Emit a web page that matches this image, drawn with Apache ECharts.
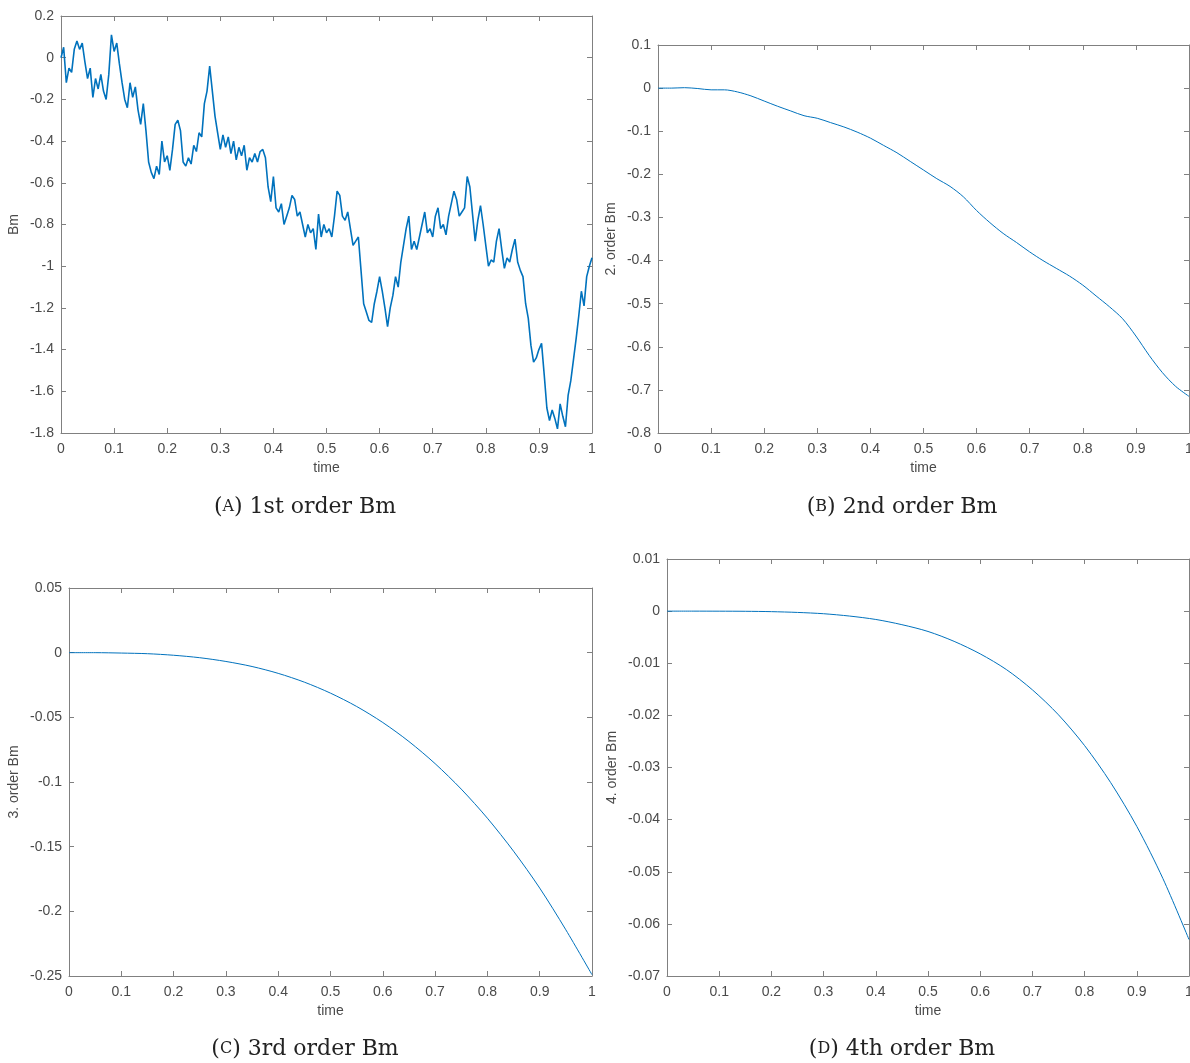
<!DOCTYPE html>
<html><head><meta charset="utf-8">
<script src="https://cdn.jsdelivr.net/npm/echarts@6/dist/echarts.min.js"></script>
<style>html,body{margin:0;padding:0;background:#fff}#c{width:1190px;height:1063px}</style>
</head><body><div id="c"></div>
<script>
// ---- data ----
// Panel A: 1st order Brownian motion, sampled every 0.005 in time
const bm1Values = [
 0.00, 0.05,-0.12,-0.05,-0.07, 0.04, 0.08, 0.04, 0.07,-0.02,
-0.10,-0.05,-0.19,-0.10,-0.15,-0.08,-0.16,-0.20,-0.08, 0.11,
 0.03, 0.07,-0.03,-0.12,-0.20,-0.24,-0.12,-0.19,-0.14,-0.25,
-0.32,-0.22,-0.35,-0.50,-0.55,-0.58,-0.52,-0.56,-0.40,-0.50,
-0.47,-0.54,-0.44,-0.32,-0.30,-0.35,-0.50,-0.52,-0.48,-0.51,
-0.42,-0.45,-0.36,-0.38,-0.22,-0.16,-0.04,-0.16,-0.28,-0.36,
-0.44,-0.37,-0.43,-0.38,-0.46,-0.40,-0.49,-0.43,-0.47,-0.42,
-0.54,-0.48,-0.50,-0.46,-0.50,-0.45,-0.44,-0.48,-0.62,-0.69,
-0.57,-0.72,-0.74,-0.70,-0.80,-0.76,-0.72,-0.66,-0.68,-0.76,
-0.74,-0.80,-0.86,-0.80,-0.84,-0.82,-0.92,-0.75,-0.86,-0.80,
-0.84,-0.82,-0.86,-0.76,-0.64,-0.66,-0.76,-0.78,-0.74,-0.82,
-0.90,-0.88,-0.86,-1.02,-1.18,-1.22,-1.26,-1.27,-1.18,-1.12,
-1.05,-1.12,-1.20,-1.29,-1.20,-1.14,-1.05,-1.10,-0.98,-0.90,
-0.82,-0.76,-0.92,-0.88,-0.92,-0.86,-0.80,-0.74,-0.84,-0.82,
-0.86,-0.76,-0.72,-0.82,-0.80,-0.85,-0.76,-0.70,-0.64,-0.68,
-0.76,-0.74,-0.72,-0.57,-0.62,-0.75,-0.88,-0.78,-0.71,-0.80,
-0.90,-1.00,-0.97,-0.98,-0.88,-0.82,-0.92,-1.01,-0.96,-0.98,
-0.92,-0.87,-0.98,-1.02,-1.05,-1.18,-1.25,-1.38,-1.46,-1.44,
-1.40,-1.37,-1.52,-1.68,-1.74,-1.69,-1.73,-1.78,-1.66,-1.72,
-1.77,-1.62,-1.55,-1.45,-1.35,-1.24,-1.12,-1.19,-1.05,-1.00,
-0.96
];
// Panel B: 2nd order, sampled every 0.025
const bm2Values = [
 0.000, 0.000, 0.001,-0.001,-0.004,-0.004,-0.009,-0.018,-0.030,-0.042,
-0.053,-0.064,-0.070,-0.080,-0.090,-0.102,-0.116,-0.133,-0.150,-0.170,
-0.190,-0.210,-0.228,-0.252,-0.284,-0.312,-0.337,-0.358,-0.380,-0.400,
-0.418,-0.436,-0.457,-0.482,-0.507,-0.535,-0.575,-0.620,-0.660,-0.692,
-0.715
];
// Panel C: 3rd order, sampled every 0.05
const bm3Values = [
 0.0000,-0.0000,-0.0003,-0.0008,-0.0020,-0.0039,-0.0068,-0.0107,-0.0160,-0.0228,
-0.0313,-0.0416,-0.0540,-0.0687,-0.0858,-0.1055,-0.1280,-0.1535,-0.1820,-0.2143,
-0.2490
];
// Panel D: 4th order, sampled every 0.05
const bm4Values = [
 0.00000, 0.00000,-0.00001,-0.00003,-0.00010,-0.00025,-0.00050,-0.00095,-0.00160,-0.00260,
-0.00390,-0.00580,-0.00820,-0.01120,-0.01510,-0.01990,-0.02580,-0.03290,-0.04130,-0.05130,
-0.06300
];
const timeStep = {bm1: 0.005, bm2: 0.025, bm3: 0.05, bm4: 0.05};
const yNames = ['Bm', '2. order Bm', '3. order Bm', '4. order Bm'];
const xName = 'time';
const yRanges = [[-1.8, 0.2, 0.2], [-0.8, 0.1, 0.1], [-0.25, 0.05, 0.05], [-0.07, 0.01, 0.01]];
const captions = [['A', ' 1st order Bm'], ['B', ' 2nd order Bm'], ['C', ' 3rd order Bm'], ['D', ' 4th order Bm']];

function toPairs(vals, step) {
  return vals.map((v, i) => [+(i * step).toFixed(4), v]);
}
const seriesData = [
  toPairs(bm1Values, timeStep.bm1),
  toPairs(bm2Values, timeStep.bm2),
  toPairs(bm3Values, timeStep.bm3),
  toPairs(bm4Values, timeStep.bm4)
];

// ---- layout ----
const grids = [
  {left: 61, top: 16, width: 531, height: 417},
  {left: 658, top: 45, width: 531, height: 388},
  {left: 69, top: 588, width: 523, height: 388},
  {left: 667, top: 559, width: 522, height: 417}
];
const yNameGap = [40, 40, 48, 48];
const captionPos = [[305, 507], [902, 507], [305, 1049], [902, 1049]];

const AX = '#808080', LBL = '#4a4a4a', FONT = '"Liberation Sans", Arial, sans-serif';
const option = {
  animation: false,
  grid: grids.map(g => Object.assign({containLabel: false, outerBoundsMode: 'none'}, g)),
  xAxis: [], yAxis: [], series: [], graphic: []
};
grids.forEach((g, i) => {
  const tick = {show: true, inside: true, length: 5, lineStyle: {color: AX, width: 1}};
  const line = {show: true, onZero: false, lineStyle: {color: AX, width: 1}};
  option.xAxis.push({
    type: 'value', gridIndex: i, min: 0, max: 1, interval: 0.1, position: 'bottom',
    axisLine: line, axisTick: tick, splitLine: {show: false},
    axisLabel: {color: LBL, fontFamily: FONT, fontSize: 14, margin: 9},
    name: xName, nameLocation: 'middle', nameGap: 28,
    nameTextStyle: {color: LBL, fontFamily: FONT, fontSize: 14}
  });
  option.xAxis.push({
    type: 'value', gridIndex: i, min: 0, max: 1, interval: 0.1, position: 'top',
    axisLine: line, axisTick: tick, splitLine: {show: false}, axisLabel: {show: false}
  });
  const [ymin, ymax, yint] = yRanges[i];
  option.yAxis.push({
    type: 'value', gridIndex: i, min: ymin, max: ymax, interval: yint, position: 'left',
    axisLine: line, axisTick: tick, splitLine: {show: false},
    axisLabel: {color: LBL, fontFamily: FONT, fontSize: 14, margin: 7},
    name: yNames[i], nameLocation: 'middle', nameGap: yNameGap[i],
    nameTextStyle: {color: LBL, fontFamily: FONT, fontSize: 14}
  });
  option.yAxis.push({
    type: 'value', gridIndex: i, min: ymin, max: ymax, interval: yint, position: 'right',
    axisLine: line, axisTick: tick, splitLine: {show: false}, axisLabel: {show: false}
  });
  option.series.push({
    type: 'line', xAxisIndex: 2 * i, yAxisIndex: 2 * i, data: seriesData[i],
    showSymbol: false, smooth: i === 0 ? false : 0.3, sampling: null,
    lineStyle: {color: '#0072BD', width: i === 0 ? 1.6 : 1}, z: 3
  });
  option.graphic.push({
    type: 'text', x: captionPos[i][0], y: captionPos[i][1],
    style: {
      text: '{p|(}{sc|' + captions[i][0] + '}{p|)' + captions[i][1] + '}',
      align: 'center', verticalAlign: 'middle',
      rich: {
        p: {fontFamily: '"DejaVu Serif", "Liberation Serif", serif', fontSize: 22, fill: '#222'},
        sc: {fontFamily: '"DejaVu Serif", "Liberation Serif", serif', fontSize: 16, fill: '#222'}
      }
    }
  });
});
const chart = echarts.init(document.getElementById('c'), null, {renderer: 'canvas'});
chart.setOption(option);
</script>
</body></html>
